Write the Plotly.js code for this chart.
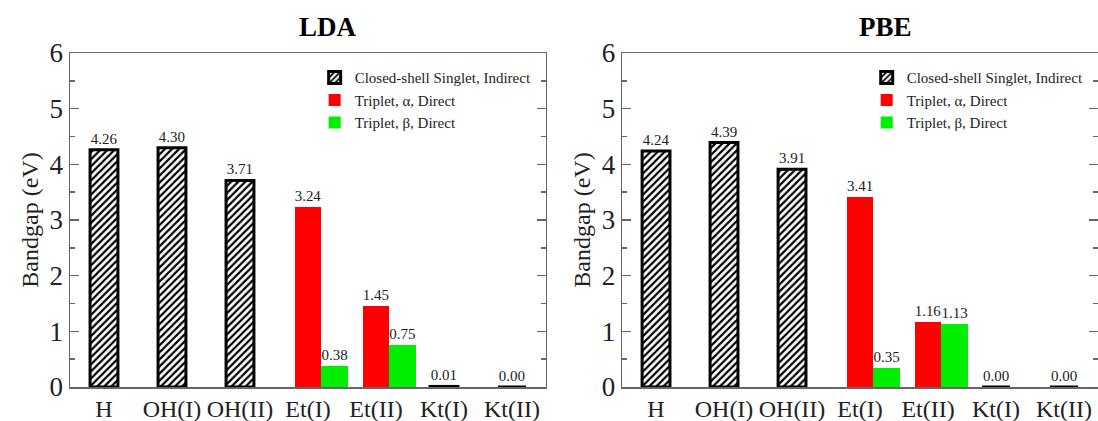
<!DOCTYPE html>
<html>
<head>
<meta charset="utf-8">
<script src="https://cdn.plot.ly/plotly-3.0.1.min.js"></script>
<style>html,body{margin:0;padding:0;background:#fff;}#chart{width:1098px;height:421px;}</style>
</head>
<body>
<div id="chart"></div>
<script>
const categories = ["H", "OH(I)", "OH(II)", "Et(I)", "Et(II)", "Kt(I)", "Kt(II)"];
const singletCats = ["H", "OH(I)", "OH(II)", "Kt(I)", "Kt(II)"];
const tripletCats = ["Et(I)", "Et(II)"];

const ldaSinglet = [4.26, 4.30, 3.71, 0.01, 0.00];
const ldaAlpha = [3.24, 1.45];
const ldaBeta = [0.38, 0.75];

const pbeSinglet = [4.24, 4.39, 3.91, 0.00, 0.00];
const pbeAlpha = [3.41, 1.16];
const pbeBeta = [0.35, 1.13];

const names = ["Closed-shell Singlet, Indirect", "Triplet, \u03b1, Direct", "Triplet, \u03b2, Direct"];
const panelTitles = ["LDA", "PBE"];

const serif = "Liberation Serif";
const textFont = {family: serif, size: 15, color: "#222"};

function panel(singlet, alpha, beta, xa, ya, legend) {
  return [
    {type: "bar", x: singletCats, y: singlet, name: names[0], xaxis: xa, yaxis: ya, legend: legend,
     width: 0.41, offset: -0.205,
     marker: {color: "#fff", line: {color: "#000", width: 3},
              pattern: {shape: "/", fgcolor: "#000", bgcolor: "#fff", size: 5, solidity: 0.45}},
     texttemplate: "%{y:.2f}", textposition: "outside", textfont: textFont, cliponaxis: false},
    {type: "bar", x: tripletCats, y: alpha, name: names[1], xaxis: xa, yaxis: ya, legend: legend,
     width: 0.39, offset: -0.195,
     marker: {color: "#ff0000", line: {width: 0}},
     texttemplate: "%{y:.2f}", textposition: "outside", textfont: textFont, cliponaxis: false},
    {type: "bar", x: tripletCats, y: beta, name: names[2], xaxis: xa, yaxis: ya, legend: legend,
     width: 0.39, offset: 0.195,
     marker: {color: "#00ee00", line: {width: 0}},
     texttemplate: "%{y:.2f}", textposition: "outside", textfont: textFont, cliponaxis: false}
  ];
}

const data = [
  ...panel(ldaSinglet, ldaAlpha, ldaBeta, "x", "y", "legend"),
  ...panel(pbeSinglet, pbeAlpha, pbeBeta, "x2", "y2", "legend2")
];

const axisColor = "#666";
function xaxis(domain, anchor) {
  return {domain: domain, anchor: anchor, type: "category", categoryorder: "array", categoryarray: categories,
    range: [-0.5, 6.5], showline: true, linecolor: axisColor, linewidth: 1.5, mirror: true,
    ticks: "", showgrid: false, zeroline: false,
    tickfont: {family: serif, size: 24, color: "#222"}};
}
function yaxis(anchor) {
  return {domain: [0, 1], anchor: anchor, range: [0, 6], tickvals: [0,1,2,3,4,5,6],
    showline: true, linecolor: axisColor, linewidth: 1.5, mirror: "allticks",
    ticks: "inside", ticklen: 9, tickcolor: axisColor, tickwidth: 1.5,
    minor: {dtick: 0.5, ticks: "inside", ticklen: 5, tickcolor: axisColor, tickwidth: 1.5, showgrid: false},
    showgrid: false, zeroline: false,
    tickfont: {family: serif, size: 27, color: "#222"},
    title: {text: "Bandgap (eV)", font: {family: serif, size: 24, color: "#222"}, standoff: 4}};
}

const legendBase = {font: {family: serif, size: 15, color: "#222"}, bgcolor: "rgba(0,0,0,0)",
  borderwidth: 0, xanchor: "left", yanchor: "top", tracegroupgap: 0, itemwidth: 30};

const layout = {
  width: 1098, height: 421,
  margin: {l: 70, r: 0, t: 53, b: 34},
  paper_bgcolor: "#fff", plot_bgcolor: "#fff",
  barmode: "overlay", bargap: 0,
  showlegend: true,
  xaxis: xaxis([0, 0.463], "y"),
  yaxis: yaxis("x"),
  xaxis2: xaxis([0.537, 1], "y2"),
  yaxis2: yaxis("x2"),
  legend: Object.assign({}, legendBase, {x: 0.238, y: 0.975}),
  legend2: Object.assign({}, legendBase, {x: 0.775, y: 0.975}),
  annotations: [
    {text: "<b>" + panelTitles[0] + "</b>", xref: "paper", yref: "paper", x: 0.251, y: 1.078,
     xanchor: "center", yanchor: "middle", showarrow: false, font: {family: serif, size: 27, color: "#000"}},
    {text: "<b>" + panelTitles[1] + "</b>", xref: "paper", yref: "paper", x: 0.793, y: 1.078,
     xanchor: "center", yanchor: "middle", showarrow: false, font: {family: serif, size: 27, color: "#000"}}
  ]
};

Plotly.newPlot("chart", data, layout, {displayModeBar: false, staticPlot: true});
</script>
</body>
</html>
